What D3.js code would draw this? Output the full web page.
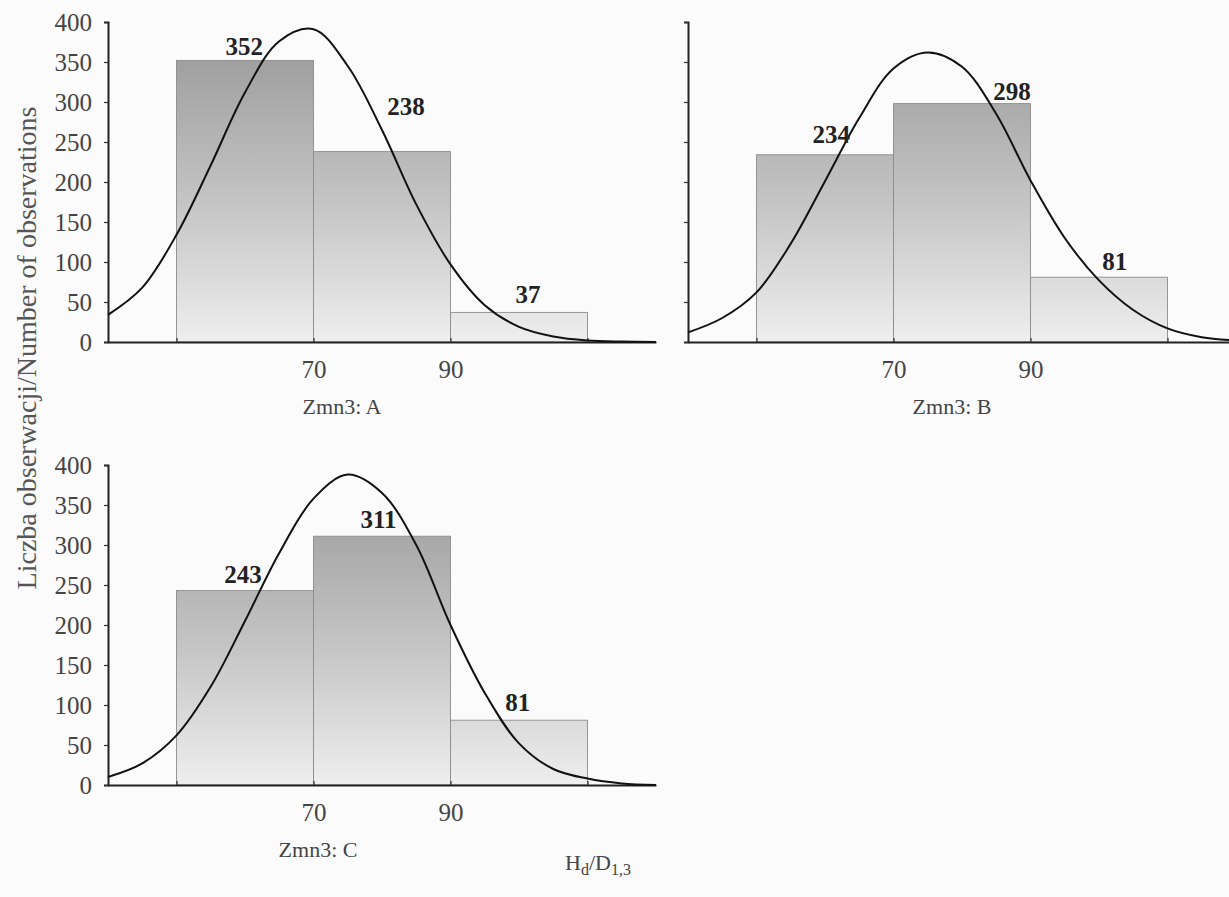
<!DOCTYPE html>
<html>
<head>
<meta charset="utf-8">
<script src="https://cdn.jsdelivr.net/npm/d3@7"></script>
<style>
  body { margin: 0; background: #fbfbfb; }
  svg { display: block; }
  text { font-family: "Liberation Serif", "DejaVu Serif", serif; fill: #333; }
</style>
</head>
<body>
<div id="chart"></div>
<script>
// histogram bins (Hd/D1,3 classes)
var binEdges = [50, 70, 90, 110];
var countsA = [352, 238, 37];
var countsB = [234, 298, 81];
var countsC = [243, 311, 81];

// fitted normal curve, every 5 units
var curveX = [40, 45, 50, 55, 60, 65, 70, 75, 80, 85, 90, 95, 100, 105, 110, 115, 120];
var curveA = [34, 68, 134, 221, 312, 376, 391, 345, 265, 172, 97, 46, 19, 7, 2, 0.5, 0];
var curveB = [12, 30, 62, 123, 201, 280, 342, 362, 344, 285, 202, 130, 77, 40, 17, 6, 2];
var curveC = [10, 27, 62, 123, 205, 290, 358, 388, 365, 300, 200, 115, 52, 20, 8, 2, 0];

// where the value labels sit (data units)
var labelXA = [59.9, 83.5, 101.3], labelYA = [359, 284, 49];
var labelXB = [60.9, 87.3, 102.3], labelYB = [249, 302, 90];
var labelXC = [59.7, 79.5, 99.8], labelYC = [252, 321, 92];

var yTicks = [0, 50, 100, 150, 200, 250, 300, 350, 400];
var xTicks = [50, 70, 90, 110];
var xTickLabels = [70, 90];
var panelTitles = ["Zmn3: A", "Zmn3: B", "Zmn3: C"];

var W = 1229, H = 897;

var svg = d3.select("#chart").append("svg")
  .attr("width", W)
  .attr("height", H);

// bar shading: dark at the top of the plot, light near the axis
var defs = svg.append("defs");

var panels = [
  {name: panelTitles[0], counts: countsA, curve: curveA, lx: labelXA, ly: labelYA,
   left: 108, top: 22, bottom: 342, yLabels: true, titleX: 342},
  {name: panelTitles[1], counts: countsB, curve: curveB, lx: labelXB, ly: labelYB,
   left: 688, top: 22, bottom: 342, yLabels: false, titleX: 952},
  {name: panelTitles[2], counts: countsC, curve: curveC, lx: labelXC, ly: labelYC,
   left: 108, top: 465, bottom: 785, yLabels: true, titleX: 318}
];

panels.forEach(function(p, i) {
  var x = d3.scaleLinear().domain([40, 120]).range([p.left, p.left + 548]);
  var y = d3.scaleLinear().domain([0, 400]).range([p.bottom, p.top]);

  var gradId = "shade" + i;
  var grad = defs.append("linearGradient")
    .attr("id", gradId)
    .attr("gradientUnits", "userSpaceOnUse")
    .attr("x1", 0).attr("x2", 0)
    .attr("y1", y(370)).attr("y2", y(0));
  grad.append("stop").attr("offset", "0%").attr("stop-color", "#9c9c9c");
  grad.append("stop").attr("offset", "55%").attr("stop-color", "#c6c6c6");
  grad.append("stop").attr("offset", "100%").attr("stop-color", "#eeeeee");

  var g = svg.append("g");

  // bars
  g.selectAll(".bar")
    .data(p.counts)
    .enter().append("rect")
    .attr("class", "bar")
    .attr("x", function(d, k) { return x(binEdges[k]); })
    .attr("width", function(d, k) { return x(binEdges[k + 1]) - x(binEdges[k]); })
    .attr("y", function(d) { return y(d); })
    .attr("height", function(d) { return y(0) - y(d); })
    .style("fill", "url(#" + gradId + ")")
    .style("stroke", "#8c8c8c")
    .style("stroke-width", 0.9);

  // axes
  var yAxis = d3.axisLeft(y).tickValues(yTicks).tickSize(4).tickPadding(12);
  if (!p.yLabels) yAxis.tickFormat("");
  var ya = g.append("g")
    .attr("transform", "translate(" + p.left + ",0)")
    .call(yAxis);

  var xAxis = d3.axisBottom(x).tickValues(xTicks)
    .tickSizeInner(-4).tickSizeOuter(0).tickPadding(18)
    .tickFormat(function(d) { return xTickLabels.indexOf(d) >= 0 ? d : ""; });
  var xa = g.append("g")
    .attr("transform", "translate(0," + p.bottom + ")")
    .call(xAxis);

  [ya, xa].forEach(function(a) {
    a.select(".domain").style("stroke", "#222").style("stroke-width", 2);
    a.selectAll(".tick line").style("stroke", "#333").style("stroke-width", 1.2);
    a.selectAll(".tick text")
      .style("font-family", "Liberation Serif, serif")
      .style("font-size", "25px")
      .style("fill", "#444");
  });

  // normal curve
  var line = d3.line()
    .x(function(d, k) { return x(curveX[k]); })
    .y(function(d) { return y(d); })
    .curve(d3.curveCatmullRom.alpha(0.5));

  g.append("path")
    .datum(p.curve)
    .attr("d", line)
    .style("fill", "none")
    .style("stroke", "#111")
    .style("stroke-width", 2);

  // value labels
  g.selectAll(".val")
    .data(p.counts)
    .enter().append("text")
    .attr("class", "val")
    .attr("x", function(d, k) { return x(p.lx[k]); })
    .attr("y", function(d, k) { return y(p.ly[k]); })
    .attr("text-anchor", "middle")
    .style("font-size", "25px")
    .style("font-weight", "bold")
    .style("fill", "#222")
    .text(function(d) { return d; });

  // panel title
  g.append("text")
    .attr("x", p.titleX)
    .attr("y", p.bottom + 72)
    .attr("text-anchor", "middle")
    .style("font-size", "22px")
    .style("fill", "#444")
    .text(p.name);
});

// y axis title
svg.append("text")
  .attr("transform", "translate(36,348) rotate(-90)")
  .attr("text-anchor", "middle")
  .style("font-size", "28px")
  .style("fill", "#555")
  .text("Liczba obserwacji/Number of observations");

// x variable name
var xt = svg.append("text")
  .attr("x", 565)
  .attr("y", 870)
  .style("font-size", "22px")
  .style("fill", "#444");
xt.append("tspan").text("H");
xt.append("tspan").attr("dy", 5).style("font-size", "16px").text("d");
xt.append("tspan").attr("dy", -5).text("/D");
xt.append("tspan").attr("dy", 5).style("font-size", "16px").text("1,3");
</script>
</body>
</html>
